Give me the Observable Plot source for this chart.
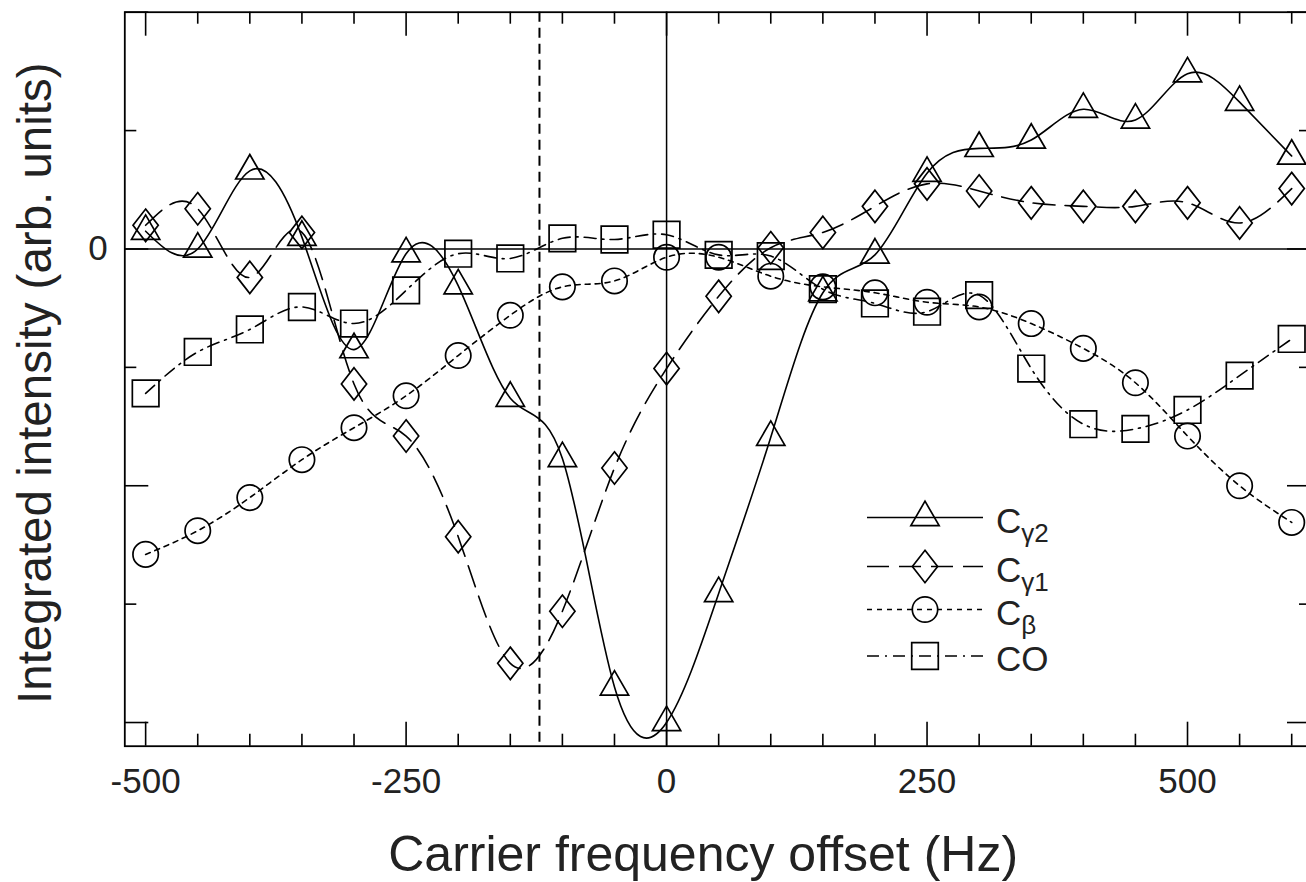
<!DOCTYPE html>
<html>
<head>
<meta charset="utf-8">
<script src="https://cdn.jsdelivr.net/npm/d3@7"></script>
<script src="https://cdn.jsdelivr.net/npm/@observablehq/plot@0.6"></script>
<style>
html, body { margin: 0; padding: 0; background: #fff; overflow: hidden; }
#chart svg { max-width: none !important; display: block; }
</style>
</head>
<body>
<div id="chart"></div>
<script>
// ---- data ----
const offsets = [-500,-450,-400,-350,-300,-250,-200,-150,-100,-50,0,50,100,150,200,250,300,350,400,450,500,550,600];
const cGamma2 = [0.15,0.00,0.66,0.10,-0.85,-0.04,-0.31,-1.26,-1.77,-3.70,-4.00,-2.91,-1.59,-0.37,-0.05,0.64,0.85,0.92,1.18,1.09,1.48,1.24,0.785];
const cGamma1 = [0.20,0.34,-0.24,0.14,-1.14,-1.58,-2.43,-3.50,-3.06,-1.85,-1.01,-0.40,0.01,0.14,0.36,0.55,0.49,0.39,0.36,0.36,0.39,0.22,0.51];
const cBeta   = [-2.58,-2.38,-2.10,-1.78,-1.51,-1.24,-0.90,-0.56,-0.32,-0.27,-0.07,-0.07,-0.23,-0.32,-0.37,-0.45,-0.49,-0.63,-0.84,-1.13,-1.58,-2.00,-2.31];
const cCO     = [-1.22,-0.87,-0.68,-0.49,-0.63,-0.35,-0.04,-0.08,0.09,0.08,0.12,-0.05,-0.06,-0.34,-0.46,-0.53,-0.39,-1.01,-1.48,-1.52,-1.36,-1.07,-0.76];
const seriesKeys = ["g2", "g1", "b", "co"];
const xMajorTicks = [-500, -250, 0, 250, 500];
const xMinorTicks = [-450,-400,-350,-300,-200,-150,-100,-50,50,100,150,200,300,350,400,450,550,600];
const yMajorTicks = [2, 0, -2, -4];
const yMinorTicks = [1, -1, -3];
const yTickLabels = [0];
const dashedMarkerX = [-122];
const xTitle = "Carrier frequency offset (Hz)";
const yTitle = "Integrated intensity (arb. units)";

// ---- styles ----
const FONT = "'Liberation Sans', Arial, Helvetica, sans-serif";
const TXT = "#222";
const diamondSym = {
  draw(ctx, size) {
    const h = Math.sqrt(size / Math.PI), w = h * 0.78;
    ctx.moveTo(0, -h); ctx.lineTo(w, 0); ctx.lineTo(0, h); ctx.lineTo(-w, 0); ctx.closePath();
  }
};
const style = {
  g2: {values: cGamma2, symbol: "triangle", r: 10.5, dash: null},
  g1: {values: cGamma1, symbol: diamondSym, r: 16.2, dash: "22,10"},
  b:  {values: cBeta,   symbol: "circle",   r: 12.7, dash: "5,5"},
  co: {values: cCO,     symbol: "square",   r: 15.0, dash: "12,6,2,6"}
};

const W = 1311, H = 882, mt = 11.7, mb = 136.3, ml = 124.3, mr = 0;
const fw = W - ml - mr, fh = H - mt - mb;

const seriesMarks = seriesKeys.flatMap(k => {
  const s = style[k];
  const rows = offsets.map((x, i) => ({x, y: s.values[i]}));
  return [
    Plot.line(rows, {x: "x", y: "y", curve: "natural", stroke: "black", strokeWidth: 1.6,
      strokeDasharray: s.dash ?? undefined}),
    Plot.dot(rows, {x: "x", y: "y", symbol: s.symbol, r: s.r, fill: "none", stroke: "black", strokeWidth: 1.7})
  ];
});

const chart = Plot.plot({
  width: W, height: H,
  marginTop: mt, marginBottom: mb, marginLeft: ml, marginRight: mr,
  x: {domain: [-520, 619]},
  y: {domain: [-4.2, 2]},
  style: {fontFamily: FONT, background: "white", color: "black", overflow: "hidden"},
  marks: [
    Plot.ruleY([0], {stroke: "black", strokeWidth: 1.5}),
    Plot.ruleX([0], {stroke: "black", strokeWidth: 1.5}),
    Plot.ruleX(dashedMarkerX, {stroke: "black", strokeWidth: 2, strokeDasharray: "10,6"}),
    ...seriesMarks,
    // inward ticks
    Plot.tickX(xMajorTicks, {x: d => d, insetTop: fh - 24, strokeWidth: 1.6}),
    Plot.tickX(xMajorTicks, {x: d => d, insetBottom: fh - 24, strokeWidth: 1.6}),
    Plot.tickX(xMinorTicks, {x: d => d, insetTop: fh - 12, strokeWidth: 1.6}),
    Plot.tickX(xMinorTicks, {x: d => d, insetBottom: fh - 12, strokeWidth: 1.6}),
    Plot.tickY(yMajorTicks, {y: d => d, insetRight: fw - 24, strokeWidth: 1.6}),
    Plot.tickY(yMajorTicks, {y: d => d, insetLeft: fw - 24, strokeWidth: 1.6}),
    Plot.tickY(yMinorTicks, {y: d => d, insetRight: fw - 12, strokeWidth: 1.6}),
    Plot.tickY(yMinorTicks, {y: d => d, insetLeft: fw - 12, strokeWidth: 1.6}),
    Plot.frame({stroke: "black", strokeWidth: 1.8}),
    Plot.axisX(xMajorTicks, {anchor: "bottom", tickSize: 0, tickPadding: 22, fontSize: 35,
      tickFormat: d => String(d), label: null, fill: TXT}),
    Plot.axisY(yTickLabels, {anchor: "left", tickSize: 0, tickPadding: 17, fontSize: 35,
      tickFormat: d => String(d), label: null, fill: TXT}),
    Plot.text([xTitle], {text: d => d, frameAnchor: "bottom", textAnchor: "middle", lineAnchor: "middle",
      dx: -15, dy: 108.5, fontSize: 50, fill: TXT}),
    Plot.text([yTitle], {text: d => d, frameAnchor: "left", textAnchor: "middle", lineAnchor: "middle",
      rotate: -90, dx: -89.5, dy: 4, fontSize: 47.5, fill: TXT})
  ]
});
document.getElementById("chart").appendChild(chart);

// ---- legend (inside the frame, lower right) ----
const legendItems = [
  {key: "g2", main: "C", sub: "\u03B32"},
  {key: "g1", main: "C", sub: "\u03B31"},
  {key: "b",  main: "C", sub: "\u03B2"},
  {key: "co", main: "CO", sub: ""}
];
const svg = d3.select(chart);
const lg = svg.append("g").attr("class", "legend").attr("font-family", FONT).attr("text-anchor", "start");
const rowY = [517.5, 566.5, 609.5, 656];
legendItems.forEach((it, i) => {
  const s = style[it.key], y = rowY[i];
  lg.append("line").attr("x1", 867).attr("x2", 983).attr("y1", y).attr("y2", y)
    .attr("stroke", "black").attr("stroke-width", 1.6)
    .attr("stroke-dasharray", s.dash ?? null);
  const symType = typeof s.symbol === "string"
    ? {triangle: d3.symbolTriangle, circle: d3.symbolCircle, square: d3.symbolSquare}[s.symbol]
    : s.symbol;
  lg.append("path").attr("transform", `translate(925,${y})`)
    .attr("d", d3.symbol(symType, s.r * s.r * Math.PI)())
    .attr("fill", "none").attr("stroke", "black").attr("stroke-width", 1.7);
  const t = lg.append("text").attr("x", 996).attr("y", y + 15).attr("font-size", 35)
    .attr("fill", TXT).attr("text-anchor", "start");
  t.append("tspan").text(it.main);
  if (it.sub) t.append("tspan").attr("dy", 9).attr("font-size", 26).text(it.sub);
});
</script>
</body>
</html>
